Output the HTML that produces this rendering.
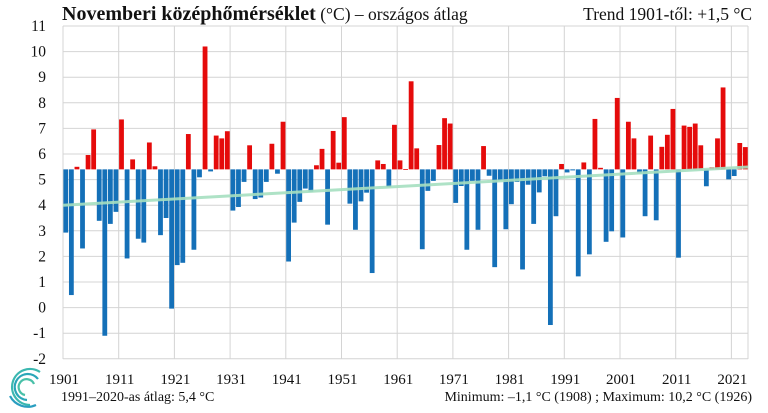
<!DOCTYPE html>
<html><head><meta charset="utf-8"><style>
body{margin:0;background:#fff;}
svg{display:block;font-family:"Liberation Serif",serif;}
</style></head><body>
<svg id="c" width="768" height="413" viewBox="0 0 768 413" xmlns="http://www.w3.org/2000/svg">
<rect width="768" height="413" fill="#fff"/>
<g id="grid" stroke="#d4d4d4" stroke-width="1"></g>
<g id="bars"></g>
<line x1="63" y1="205.2" x2="748" y2="167" stroke="#a6dfc0" stroke-width="3" opacity="0.9"/>
<g id="lbl" font-size="15" fill="#111"></g>
<text x="62" y="20" font-size="20" font-weight="bold" fill="#111">Novemberi középhőmérséklet<tspan font-weight="normal" font-size="17.5"> (°C) – országos átlag</tspan></text>
<text x="752" y="20" font-size="17.5" text-anchor="end" fill="#111">Trend 1901-től: +1,5 °C</text>
<text x="61" y="401" font-size="14" fill="#111">1991–2020-as átlag:  5,4 °C</text>
<text x="752" y="401" font-size="14" text-anchor="end" fill="#111">Minimum:  –1,1 °C (1908)  ; Maximum:  10,2 °C (1926)</text>
<g fill="none" stroke="#3bb8b0" stroke-width="2.2">
<path d="M30 405 A18 18 0 1 1 40 372"/>
<path d="M27 400 A13 13 0 1 1 38 379" stroke="#2aa6b8"/>
<path d="M25 395 A8 8 0 1 1 34 384" stroke="#49c0a8"/>
<path d="M10 396 A20 20 0 0 0 36 405" stroke="#2a9ec0"/>
</g>
</svg>
<script>
var v=[2.93,0.49,5.5,2.31,5.96,6.96,3.39,-1.1,3.27,3.74,7.35,1.92,5.79,2.69,2.54,6.45,5.52,2.83,3.5,-0.04,1.66,1.75,6.78,2.26,5.09,10.2,5.32,6.72,6.61,6.89,3.79,3.93,4.91,6.34,4.24,4.3,4.91,6.4,5.23,7.26,1.8,3.32,4.13,4.65,4.53,5.56,6.2,3.24,6.9,5.66,7.44,4.06,3.04,4.15,4.49,1.35,5.75,5.61,4.71,7.14,5.75,5.41,8.84,6.22,2.28,4.56,4.95,6.35,7.4,7.19,4.09,4.75,2.26,4.95,3.04,6.31,5.15,1.58,4.97,3.06,4.04,4.91,1.49,4.8,3.27,4.5,5.13,-0.68,3.57,5.61,5.28,5.36,1.22,5.67,2.08,7.37,5.46,2.57,2.98,8.19,2.74,7.26,6.61,5.24,3.57,6.72,3.41,6.28,6.75,7.76,1.95,7.11,7.06,7.19,6.34,4.74,5.48,6.61,8.6,5.01,5.14,6.43,6.27];
var NS="http://www.w3.org/2000/svg";
function el(p,t,a,txt){var e=document.createElementNS(NS,t);for(var k in a)e.setAttribute(k,a[k]);if(txt!==undefined)e.textContent=txt;p.appendChild(e);return e;}
function Y(val){return 26+(11-val)*25.6;}
var g=document.getElementById('grid'),b=document.getElementById('bars'),l=document.getElementById('lbl');
var x0=63,sw=5.57;
for(var i=-2;i<=11;i++){var y=Y(i);el(g,'line',{x1:x0,x2:748,y1:y,y2:y});el(l,'text',{x:46,y:y+5,'text-anchor':'end','font-size':15.5},String(i));}
for(var k=0;k<=12;k++){var x=x0+k*10*sw;el(g,'line',{x1:x,x2:x,y1:26,y2:359});el(l,'text',{x:x+1,y:384,'text-anchor':'middle'},String(1901+k*10));}
el(g,'line',{x1:748,x2:748,y1:26,y2:359});
var base=Y(5.4);
v.forEach(function(val,i){var x=x0+i*sw+0.4,y=Y(val);var top=Math.min(y,base),h=Math.abs(y-base);if(h<0.8)h=0.8;
el(b,'rect',{x:x.toFixed(2),y:top.toFixed(2),width:4.8,height:h.toFixed(2),fill:val>=5.4?'#e50b0b':'#1470b8'});});
</script>
</body></html>
